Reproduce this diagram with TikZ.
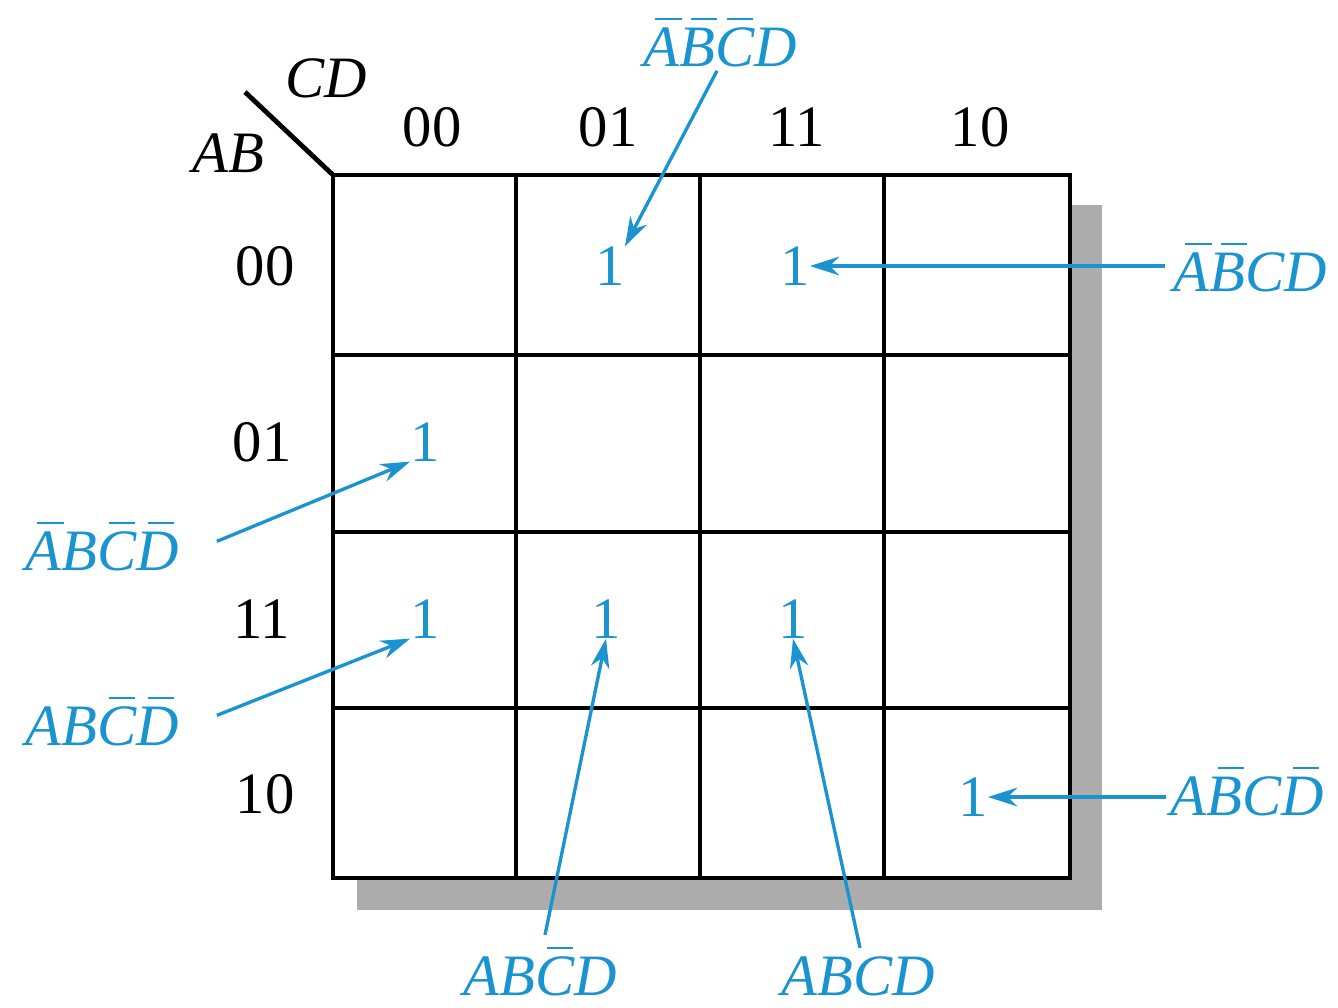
\documentclass[tikz,border=0pt]{standalone}
\usepackage{fontspec}
\setmainfont{Liberation Serif}
\usetikzlibrary{arrows.meta}
\definecolor{kblue}{RGB}{25,148,208}
\definecolor{kshadow}{RGB}{172,172,172}
\newcommand\ob[1]{\leavevmode\rlap{\kern0.2em\rule[0.78em]{0.45em}{0.035em}}#1}
\tikzset{
  gridline/.style={line width=3.6pt,black},
  hdr/.style={font=\fontsize{44}{52}\selectfont,inner sep=0pt},
  one/.style={font=\fontsize{44}{52}\selectfont,text=kblue,inner sep=0pt},
  term/.style={font=\fontsize{44}{52}\selectfont\itshape,text=kblue,inner sep=0pt,anchor=base},
  ptr/.style={line width=2.5pt,kblue,-{Stealth[length=22pt,width=14pt]}},
}
\begin{document}
\begin{tikzpicture}[x=0.75pt,y=-0.75pt]
\useasboundingbox (0,0) rectangle (1338,1007);
\fill[white] (0,0) rectangle (1338,1007);
% shadow
\fill[kshadow] (357,205) rectangle (1102,910);
\fill[white] (333,175) rectangle (1070,878);
% grid
\draw[gridline] (333,175) rectangle (1070,878);
\foreach \x in {516,700,884} \draw[gridline] (\x,175) -- (\x,878);
\foreach \y in {355,532,708} \draw[gridline] (333,\y) -- (1070,\y);
% corner
\coordinate (corner) at (333,175);
\coordinate (diagend) at (245,92);
\draw[gridline] (corner) -- (diagend);
\node[hdr,font=\fontsize{44}{52}\selectfont\itshape] (cd) at (326,78) {CD};
\node[hdr,font=\fontsize{44}{52}\selectfont\itshape] (ab) at (228,153) {AB};
% column headers
\node[hdr] (c00) at (432,127) {00};
\node[hdr] (c01) at (608,127) {01};
\node[hdr] (c11) at (797,127) {11};
\node[hdr] (c10) at (980,127) {10};
% row headers
\node[hdr] (r00) at (265,266) {00};
\node[hdr] (r01) at (262,442) {01};
\node[hdr] (r11) at (262,619) {11};
\node[hdr] (r10) at (265,794) {10};
% ones
\node[one] (m1) at (610,266) {1};
\node[one] (m3) at (795,266) {1};
\node[one] (m4) at (425,442) {1};
\node[one] (m12) at (425,619) {1};
\node[one] (m13) at (606,619) {1};
\node[one] (m15) at (793,619) {1};
\node[one] (m10) at (973,797) {1};
% terms (placed by baseline)
\node[term] (t1) at (720,66) {\ob{A}\ob{B}\ob{C}D};
\node[term] (t3) at (1250,291) {\ob{A}\ob{B}CD};
\node[term] (t4) at (102,570) {\ob{A}B\ob{C}\ob{D}};
\node[term] (t12) at (102,745) {AB\ob{C}\ob{D}};
\node[term] (t13) at (540,995) {AB\ob{C}D};
\node[term] (t15) at (858,995) {ABCD};
\node[term] (t10) at (1247,815) {A\ob{B}C\ob{D}};
% pointers
\draw[ptr] (t1.south) ++(-3,4) -- (m1.north east);
\draw[ptr] ([xshift=-6pt]t3.west |- m3.east) -- (m3.east);
\draw[ptr] (t4.east) ++(38,-5) -- (m4.south west);
\draw[ptr] (t12.east) ++(38,-6) -- (m12.south west);
\draw[ptr] (t13.north) ++(5,-12) -- (m13.south);
\draw[ptr] (t15.north) ++(2,-8) -- (m15.south);
\draw[ptr] ([xshift=-3pt]t10.west |- m10.east) -- (m10.east);
\end{tikzpicture}
\end{document}
